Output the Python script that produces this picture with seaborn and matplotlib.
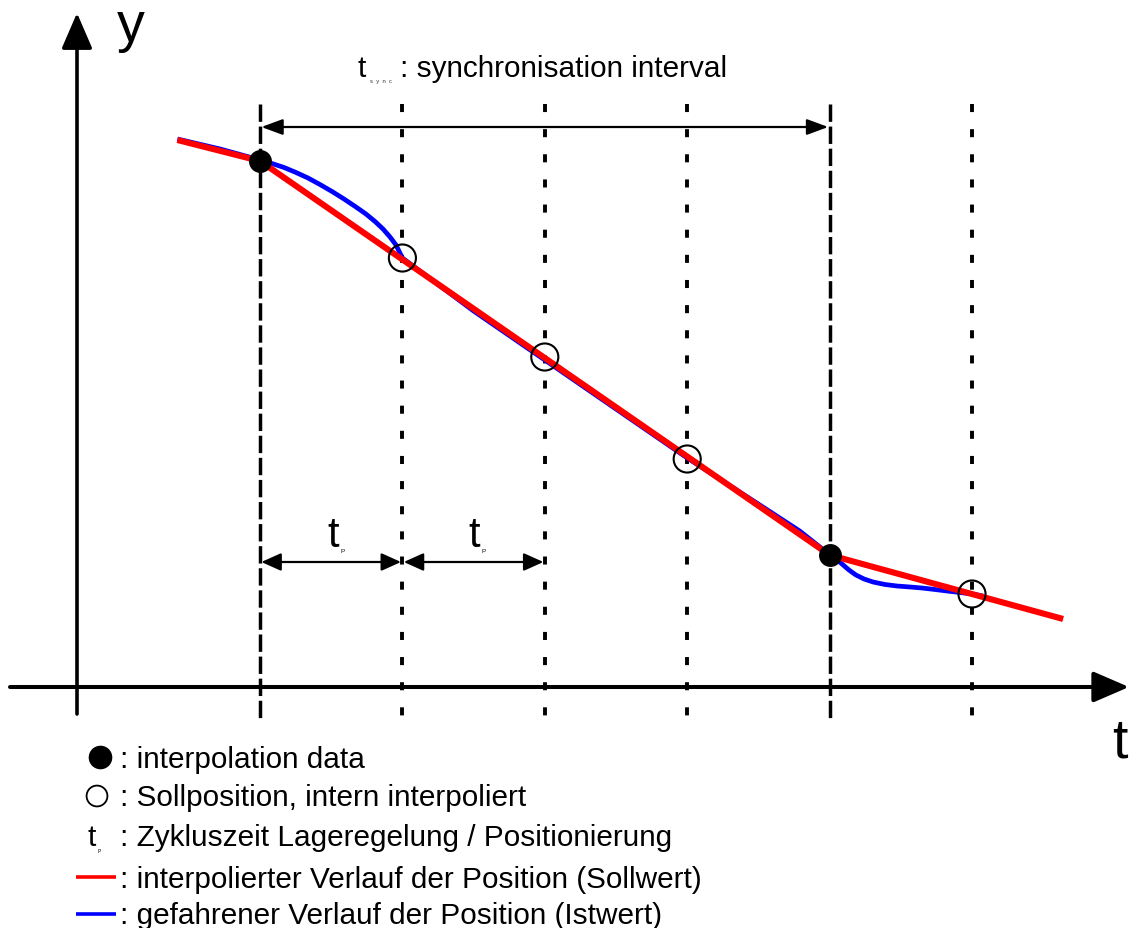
import matplotlib
matplotlib.use("Agg")
import matplotlib.pyplot as plt
import seaborn as sns
import pandas as pd

# ---------------- data (t in units of t_P, y = position) ----------------
grid_t = [0, 1, 2, 3, 4, 5]
grid_kind = ["dashed", "dotted", "dotted", "dotted", "dashed", "dotted"]

soll_t = [-0.58, 0.00, 4.00, 5.64]          # interpolierter Verlauf (red)
soll_y = [5.47, 5.26, 1.32, 0.68]

interp_t = [0, 4]                            # interpolation data (filled)
interp_y = [5.26, 1.32]

intern_t = [1, 2, 3, 5]                      # Sollposition, intern interpoliert (open)
intern_y = [4.29, 3.30, 2.28, 0.93]

ist_t = [-0.58, -0.28, 0.000, 0.084, 0.169, 0.253, 0.337, 0.421, 0.506, 0.590,
         0.674, 0.744, 0.808, 0.864, 0.913, 0.955, 1.000,
         1.50, 2.00, 2.50, 3.00, 3.51, 3.79,
         4.003, 4.045, 4.087, 4.136, 4.185, 4.242, 4.305, 4.389, 4.473, 4.565,
         4.649, 4.740, 4.824, 4.916, 5.000, 5.077]       # gefahrener Verlauf (blue)
ist_y = [5.48, 5.38, 5.27, 5.235, 5.195, 5.145, 5.09, 5.025, 4.955, 4.88,
         4.80, 4.73, 4.655, 4.58, 4.50, 4.42, 4.29,
         3.76, 3.27, 2.78, 2.29, 1.82, 1.56,
         1.32, 1.28, 1.23, 1.17, 1.12, 1.08, 1.05, 1.025, 1.01, 1.00,
         0.99, 0.975, 0.96, 0.945, 0.93, 0.91]

title_text = ": synchronisation interval"
legend_texts = [": interpolation data",
                ": Sollposition, intern interpoliert",
                ": Zykluszeit Lageregelung / Positionierung",
                ": interpolierter Verlauf der Position (Sollwert)",
                ": gefahrener Verlauf der Position (Istwert)"]

# ---------------- figure / mapping ----------------
W, H, DPI = 1130, 929, 100
PX_T, T0 = 142.4, 260.0     # px per t unit, px of t=0
PX_Y, Y0 = 100.0, 688.0     # px per y unit, px of y=0

sns.set_style("white")
plt.rcParams["font.family"] = ["Liberation Sans", "DejaVu Sans"]
plt.rcParams["text.color"] = "black"
plt.rcParams["lines.scale_dashes"] = False

fig = plt.figure(figsize=(W / DPI, H / DPI), dpi=DPI)
ax = fig.add_axes([0, 0, 1, 1])
ax.set_xlim(-T0 / PX_T, (W - T0) / PX_T)
ax.set_ylim((Y0 - H) / PX_Y, Y0 / PX_Y)
ax.axis("off")

def tx(px):
    return (px - T0) / PX_T

def ty(py):
    return (Y0 - py) / PX_Y

# vertical grid lines
v_top, v_bot = ty(105), ty(720)
for gt, kind in zip(grid_t, grid_kind):
    if kind == "dashed":
        ls, lw = (0, (12.5, 3.4)), 2.5
    else:
        ls, lw = (0, (5.8, 12.3)), 2.8
    ax.plot([gt, gt], [v_top, v_bot], color="black", lw=lw, linestyle=ls,
            solid_capstyle="butt", dash_capstyle="butt", zorder=1)

# axes with arrows
ax_x0 = tx(77)
ax.annotate("", xy=(ax_x0, ty(14)), xytext=(ax_x0, ty(715)),
            arrowprops=dict(arrowstyle="-|>,head_length=22,head_width=9.5",
                            mutation_scale=1, lw=2.6, color="black",
                            shrinkA=0, shrinkB=0), zorder=2)
ax.annotate("", xy=(tx(1129), 0), xytext=(tx(10), 0),
            arrowprops=dict(arrowstyle="-|>,head_length=22,head_width=9.5",
                            mutation_scale=1, lw=2.9, color="black",
                            shrinkA=0, shrinkB=0), zorder=2)

# dimension arrows
ax.annotate("", xy=(grid_t[4], ty(128)), xytext=(grid_t[0], ty(128)),
            arrowprops=dict(arrowstyle="<|-|>,head_length=13,head_width=4.8",
                            mutation_scale=1, lw=1.6, color="black",
                            shrinkA=1, shrinkB=1), zorder=3)
for a, b in [(grid_t[0], grid_t[1]), (grid_t[1], grid_t[2])]:
    ax.annotate("", xy=(b, ty(563)), xytext=(a, ty(563)),
                arrowprops=dict(arrowstyle="<|-|>,head_length=12,head_width=5.4",
                                mutation_scale=1, lw=1.6, color="black",
                                shrinkA=1, shrinkB=1), zorder=3)

# curves
ist = pd.DataFrame({"t": ist_t, "y": ist_y})
soll = pd.DataFrame({"t": soll_t, "y": soll_y})
sns.lineplot(data=ist, x="t", y="y", sort=False, estimator=None, color="#0000ff",
             lw=3.4, ax=ax, zorder=4, solid_joinstyle="round", solid_capstyle="butt")
sns.lineplot(data=soll, x="t", y="y", sort=False, estimator=None, color="#ff0000",
             lw=4.4, ax=ax, zorder=5, solid_joinstyle="round", solid_capstyle="butt")

# markers
sns.scatterplot(x=interp_t, y=interp_y, s=16.5 ** 2, color="black", edgecolor="black",
                linewidth=0, ax=ax, zorder=7)
sns.scatterplot(x=intern_t, y=intern_y, s=19.5 ** 2, facecolor="none", edgecolor="black",
                linewidth=1.5, ax=ax, zorder=7)

# axis labels
ax.text(tx(131), ty(41), "y", fontsize=40, ha="center", va="baseline")
ax.text(tx(1120), ty(758), "t", fontsize=40, ha="center", va="baseline")

# header
FS = 21.4
ax.text(tx(362), ty(77), "t", fontsize=FS, ha="center", va="baseline")
ax.text(tx(381), ty(82), "s  y  n  c", fontsize=4.2, ha="center", va="center", color="#333333")
ax.text(tx(400), ty(77), title_text, fontsize=FS, ha="left", va="baseline")

# t_P labels
for cx in [333, 474]:
    ax.text(tx(cx), ty(547), "t", fontsize=30, ha="center", va="baseline")
    ax.text(tx(cx + 10), ty(552), "P", fontsize=4.5, ha="center", va="center")

# legend
rows_py = [768, 806, 846, 888, 924]
txt_x = tx(120)
for py, s in zip(rows_py, legend_texts):
    ax.text(txt_x, ty(py), s, fontsize=FS, ha="left", va="baseline")
sns.scatterplot(x=[tx(100)], y=[ty(758)], s=17.0 ** 2, color="black", linewidth=0,
                ax=ax, zorder=7)
sns.scatterplot(x=[tx(97)], y=[ty(797)], s=15.0 ** 2, facecolor="none", edgecolor="black",
                linewidth=1.3, ax=ax, zorder=7)
ax.text(tx(92), ty(846), "t", fontsize=FS, ha="center", va="baseline")
ax.text(tx(99), ty(852), "P", fontsize=3.5, ha="center", va="center")
ax.plot([tx(76), tx(116)], [ty(878), ty(878)], color="#ff0000", lw=2.6, solid_capstyle="butt")
ax.plot([tx(76), tx(116)], [ty(915), ty(915)], color="#0000ff", lw=2.6, solid_capstyle="butt")

fig.savefig("out.png", dpi=DPI)
